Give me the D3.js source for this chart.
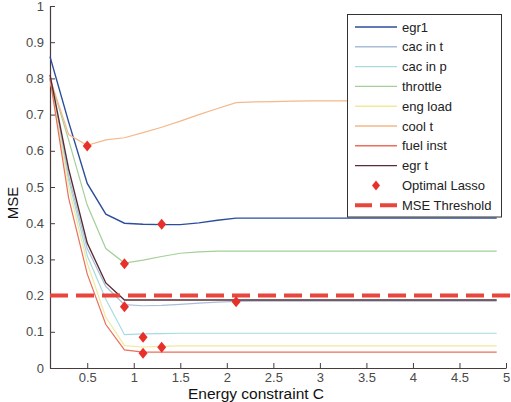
<!DOCTYPE html>
<html>
<head>
<meta charset="utf-8">
<script src="https://cdn.jsdelivr.net/npm/d3@7"></script>
<style>
  html, body { margin: 0; padding: 0; background: #fff; }
  svg { display: block; font-family: "Liberation Sans", Arial, sans-serif; }
</style>
</head>
<body>
<svg id="chart" width="511" height="402"></svg>
<script>
// Energy constraint values at which each MSE curve was evaluated
const energyC = [0.1, 0.3, 0.5, 0.7, 0.9, 1.1, 1.3, 1.5, 1.7, 1.9, 2.1, 2.3, 2.5,
                 2.7, 2.9, 3.1, 3.3, 3.5, 3.7, 3.9, 4.1, 4.3, 4.5, 4.7, 4.9];

const seriesNames = ["egr1", "cac in t", "cac in p", "throttle", "eng load", "cool t", "fuel inst", "egr t"];
const seriesColors = ["#2c4d9c", "#a9bed8", "#a6dbe0", "#a4cf98", "#f1e99c", "#f4b88a", "#ea6f5c", "#5a2c33"];

const egr1     = [0.86, 0.68, 0.51, 0.425, 0.400, 0.397, 0.396, 0.396, 0.401, 0.408, 0.414, 0.414, 0.414,
                  0.414, 0.414, 0.414, 0.414, 0.414, 0.414, 0.414, 0.414, 0.414, 0.414, 0.414, 0.414];
const cacInT   = [0.80, 0.53, 0.33, 0.225, 0.175, 0.172, 0.173, 0.176, 0.179, 0.182, 0.184, 0.185, 0.185,
                  0.185, 0.185, 0.185, 0.185, 0.185, 0.185, 0.185, 0.185, 0.185, 0.185, 0.185, 0.185];
const cacInP   = [0.80, 0.52, 0.31, 0.19, 0.092, 0.094, 0.095, 0.096, 0.096, 0.096, 0.096, 0.096, 0.096,
                  0.096, 0.096, 0.096, 0.096, 0.096, 0.096, 0.096, 0.096, 0.096, 0.096, 0.096, 0.096];
const throttle = [0.80, 0.63, 0.45, 0.33, 0.29, 0.298, 0.308, 0.317, 0.321, 0.323, 0.323, 0.323, 0.323,
                  0.323, 0.323, 0.323, 0.323, 0.323, 0.323, 0.323, 0.323, 0.323, 0.323, 0.323, 0.323];
const engLoad  = [0.80, 0.50, 0.29, 0.14, 0.062, 0.058, 0.060, 0.061, 0.061, 0.061, 0.061, 0.061, 0.061,
                  0.061, 0.061, 0.061, 0.061, 0.061, 0.061, 0.061, 0.061, 0.061, 0.061, 0.061, 0.061];
const coolT    = [0.80, 0.645, 0.615, 0.630, 0.636, 0.650, 0.665, 0.682, 0.700, 0.717, 0.733, 0.735, 0.736,
                  0.737, 0.738, 0.738, 0.738, 0.738, 0.738, 0.738, 0.738, 0.738, 0.738, 0.738, 0.738];
const fuelInst = [0.80, 0.47, 0.26, 0.12, 0.050, 0.044, 0.044, 0.044, 0.044, 0.044, 0.044, 0.044, 0.044,
                  0.044, 0.044, 0.044, 0.044, 0.044, 0.044, 0.044, 0.044, 0.044, 0.044, 0.044, 0.044];
const egrT     = [0.81, 0.55, 0.345, 0.235, 0.188, 0.188, 0.188, 0.188, 0.188, 0.188, 0.188, 0.188, 0.188,
                  0.188, 0.188, 0.188, 0.188, 0.188, 0.188, 0.188, 0.188, 0.188, 0.188, 0.188, 0.188];
const seriesValues = [egr1, cacInT, cacInP, throttle, engLoad, coolT, fuelInst, egrT];

// Optimal Lasso points (one per feature): energy constraint and MSE
const optimalC   = [1.3, 0.9, 1.1, 0.9, 1.3, 0.5, 1.1, 2.1];
const optimalMse = [0.397, 0.169, 0.085, 0.288, 0.057, 0.613, 0.041, 0.183];

const mseThreshold = 0.2;

const yTicks = [0, 0.1, 0.2, 0.3, 0.4, 0.5, 0.6, 0.7, 0.8, 0.9, 1];
const xTicks = [0.5, 1, 1.5, 2, 2.5, 3, 3.5, 4, 4.5, 5];

const svg = d3.select("#chart");
const x = d3.scaleLinear().domain([0.1, 5]).range([50, 506]);
const y = d3.scaleLinear().domain([0, 1]).range([368, 6]);
const axisColor = "#4a3b3b";

// Axes with inward ticks
const gx = svg.append("g").attr("transform", `translate(0,${y(0)})`)
  .call(d3.axisBottom(x).tickValues(xTicks).tickSize(-5).tickPadding(5).tickSizeOuter(0)
        .tickFormat(d3.format("")));
const gy = svg.append("g").attr("transform", `translate(${x(0.1)},0)`)
  .call(d3.axisLeft(y).tickValues(yTicks).tickSize(-5).tickPadding(6).tickSizeOuter(0)
        .tickFormat(d3.format("")));
[gx, gy].forEach(g => {
  g.select(".domain").attr("stroke", axisColor).attr("stroke-width", 1.2);
  g.selectAll(".tick line").attr("stroke", axisColor);
  g.selectAll(".tick text").attr("fill", "#4a4a4a").attr("font-size", 13)
    .attr("font-family", "'Liberation Sans', Arial, sans-serif");
});

// MSE curves
const line = d3.line().x((d, i) => x(energyC[i])).y(d => y(d));
svg.append("g").selectAll("path").data(seriesValues).join("path")
  .attr("d", d => line(d))
  .attr("fill", "none")
  .attr("stroke", (d, i) => seriesColors[i])
  .attr("stroke-width", (d, i) => (i === 0 || i === 7) ? 1.4 : 1.2);

// Threshold line
svg.append("line")
  .attr("x1", x(0.1)).attr("x2", 511)
  .attr("y1", y(mseThreshold)).attr("y2", y(mseThreshold))
  .attr("stroke", "#e8453c").attr("stroke-width", 4)
  .attr("stroke-dasharray", "18 8");

// Optimal Lasso markers
const diamond = (cx, cy, w, h) => `M${cx},${cy - h}L${cx + w},${cy}L${cx},${cy + h}L${cx - w},${cy}Z`;
svg.append("g").selectAll("path").data(optimalC).join("path")
  .attr("d", (d, i) => diamond(x(d), y(optimalMse[i]), 4.5, 5.5))
  .attr("fill", "#e8302a");

// Legend
const lg = svg.append("g");
lg.append("rect").attr("x", 347.5).attr("y", 14.5).attr("width", 154).attr("height", 202.5)
  .attr("fill", "#fff").attr("stroke", "#333").attr("stroke-width", 1);
const rowY = i => 27 + i * 19.8;
seriesNames.forEach((name, i) => {
  lg.append("line").attr("x1", 355).attr("x2", 397).attr("y1", rowY(i)).attr("y2", rowY(i))
    .attr("stroke", seriesColors[i]).attr("stroke-width", 1.4);
  lg.append("text").attr("x", 402).attr("y", rowY(i)).attr("dy", "0.35em")
    .attr("font-size", 13).attr("fill", "#222").text(name);
});
lg.append("path").attr("d", diamond(376, rowY(8), 4, 5)).attr("fill", "#e8302a");
lg.append("text").attr("x", 402).attr("y", rowY(8)).attr("dy", "0.35em")
  .attr("font-size", 13).attr("fill", "#222").text("Optimal Lasso");
lg.append("line").attr("x1", 355).attr("x2", 398).attr("y1", rowY(9)).attr("y2", rowY(9))
  .attr("stroke", "#e8453c").attr("stroke-width", 4).attr("stroke-dasharray", "17 8");
lg.append("text").attr("x", 402).attr("y", rowY(9)).attr("dy", "0.35em")
  .attr("font-size", 13).attr("fill", "#222").text("MSE Threshold");

// Axis titles
svg.append("text").attr("x", 256).attr("y", 399).attr("text-anchor", "middle")
  .attr("font-size", 15.5).attr("fill", "#111").text("Energy constraint C");
svg.append("text").attr("transform", "translate(18,203) rotate(-90)").attr("text-anchor", "middle")
  .attr("font-size", 15).attr("fill", "#111").text("MSE");
</script>
</body>
</html>
